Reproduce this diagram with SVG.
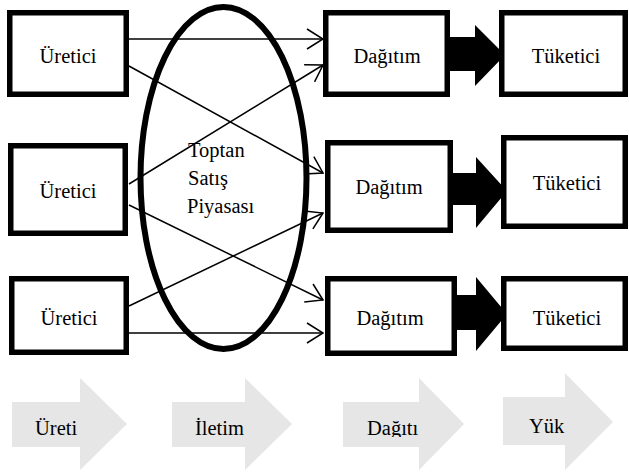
<svg xmlns="http://www.w3.org/2000/svg" width="629" height="474" viewBox="0 0 629 474">
<defs>
<style>
.box{fill:#fff;stroke:#000;stroke-width:5.5}
text{font-family:'Liberation Serif','Times New Roman',serif;font-size:20.5px;fill:#000}
.c{text-anchor:middle}
.ln{stroke:#000;stroke-width:1.5;fill:none;marker-end:url(#open)}
.big{fill:#000}
.gray{fill:#e6e6e6}
</style>
<marker id="open" viewBox="0 0 18 22" refX="17" refY="11" markerWidth="18" markerHeight="22" markerUnits="userSpaceOnUse" orient="auto">
<path d="M1,1 L17,11 L1,21" fill="none" stroke="#000" stroke-width="1.5"/>
</marker>
<clipPath id="clipB"><rect x="0" y="360" width="629" height="77"/></clipPath>
</defs>

<g id="process-arrows">
<g id="p1"><polygon class="gray" points="12,402 80,402 80,378 127,424 80,470 80,447 12,447"/><text x="35" y="435" clip-path="url(#clipB)">Üreti</text></g>
<g id="p2"><polygon class="gray" points="172,402 245,402 245,378 292,424 245,470 245,447 172,447"/><text x="195" y="435" clip-path="url(#clipB)">İletim</text></g>
<g id="p3"><polygon class="gray" points="343,402 419,402 419,378 464,424 419,470 419,447 343,447"/><text x="367" y="435" clip-path="url(#clipB)">Dağıtı</text></g>
<g id="p4"><polygon class="gray" points="503,397 565,397 565,373 613,422 565,470 565,445 503,445"/><text x="529" y="433">Yük</text></g>
</g>

<g id="connectors">
<line class="ln" x1="129" y1="39" x2="323" y2="39"/>
<line class="ln" x1="129" y1="66" x2="323" y2="173"/>
<line class="ln" x1="129" y1="184" x2="323" y2="65"/>
<line class="ln" x1="129" y1="205" x2="323" y2="300"/>
<line class="ln" x1="129" y1="306" x2="323" y2="213"/>
<line class="ln" x1="129" y1="333" x2="323" y2="333"/>
<polygon class="big" points="448,37 475,37 475,25 505,55 475,86 475,71 448,71"/>
<polygon class="big" points="450,173 476,173 476,157 507,191 476,228 476,205 450,205"/>
<polygon class="big" points="454,295 476,295 476,277 507,314 476,351 476,330 454,330"/>
</g>

<g id="nodes">
<g id="market">
<ellipse cx="223.5" cy="178" rx="83" ry="171" fill="none" stroke="#000" stroke-width="6"/>
<text x="188" y="157">Toptan</text>
<text x="188" y="185">Satış</text>
<text x="187" y="213">Piyasası</text>
</g>

<g id="uretici1"><rect class="box" x="9.75" y="12.75" width="116.5" height="81.5"/><text class="c" x="68" y="63">Üretici</text></g>
<g id="uretici2"><rect class="box" x="10.75" y="145.75" width="114.5" height="87.5"/><text class="c" x="68" y="198">Üretici</text></g>
<g id="uretici3"><rect class="box" x="11.75" y="278.75" width="114.5" height="73.5"/><text class="c" x="69" y="325">Üretici</text></g>

<g id="dagitim1"><rect class="box" x="325.75" y="12.75" width="121.5" height="81.5"/><text class="c" x="387" y="63">Dağıtım</text></g>
<g id="dagitim2"><rect class="box" x="327.75" y="142.75" width="122.5" height="87.5"/><text class="c" x="389" y="194">Dağıtım</text></g>
<g id="dagitim3"><rect class="box" x="327.75" y="278.75" width="126.5" height="74.5"/><text class="c" x="390" y="325">Dağıtım</text></g>

<g id="tuketici1"><rect class="box" x="501.75" y="12.75" width="123.5" height="81.5"/><text class="c" x="566" y="63">Tüketici</text></g>
<g id="tuketici2"><rect class="box" x="503.75" y="137.75" width="121.5" height="88.5"/><text class="c" x="567" y="190">Tüketici</text></g>
<g id="tuketici3"><rect class="box" x="503.75" y="278.75" width="121.5" height="69.5"/><text class="c" x="567" y="325">Tüketici</text></g>
</g>
</svg>
